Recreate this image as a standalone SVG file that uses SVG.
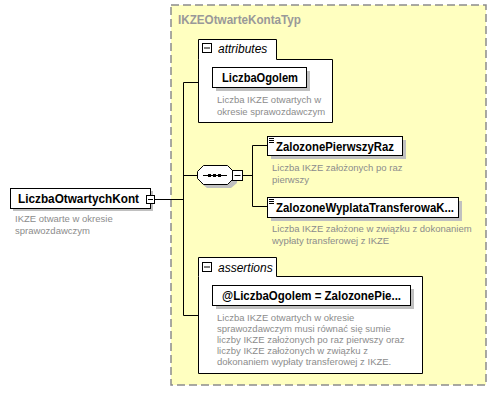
<svg xmlns="http://www.w3.org/2000/svg" width="495" height="403" viewBox="0 0 495 403">
<style>
.bg{fill:#ffffff}
.cont{fill:#ffffc0;stroke:#8c8c8c;stroke-width:1.5;stroke-dasharray:8,4}
.ttl{font-family:"Liberation Sans",Arial,sans-serif;font-size:12.5px;font-weight:bold;fill:#999999}
.box{fill:#ffffff;stroke:#000000;stroke-width:1}
.shadow{fill:#c0c0c0}
.name{font-family:"Liberation Sans",Arial,sans-serif;font-size:12px;font-weight:bold;fill:#000000}
.desc{font-family:"Liberation Sans",Arial,sans-serif;font-size:9.5px;fill:#8c8c8c}
.grp{font-family:"Liberation Sans",Arial,sans-serif;font-size:12px;font-style:italic;fill:#000000}
.ln{stroke:#000000;stroke-width:1;fill:none}
</style>
<rect class="bg" x="0" y="0" width="495" height="403"/>
<g id="IKZEOtwarteKontaTyp">
<rect class="cont" x="171" y="5" width="315" height="380"/>
<text class="ttl" x="178" y="24" textLength="123" lengthAdjust="spacingAndGlyphs">IKZEOtwarteKontaTyp</text>
</g>
<g id="connectors">
<path class="ln" d="M155,199.5 H183.5 M183.5,82.5 V315.5 M183.5,82.5 H198 M183.5,315.5 H198 M183.5,175.5 H197 M243,175.5 H252.5 M252.5,145.5 V206.5 M252.5,145.5 H268 M252.5,206.5 H268"/>
</g>
<g id="LiczbaOtwartychKont">
<rect class="shadow" x="13" y="191" width="140" height="20"/>
<rect class="box" x="10.5" y="188.5" width="140" height="20"/>
<text class="name" x="18" y="203" textLength="121" lengthAdjust="spacingAndGlyphs">LiczbaOtwartychKont</text>
<rect class="box" x="146.5" y="195.5" width="8" height="8"/>
<path class="ln" d="M148,199.5 H153"/>
<text class="desc" x="15" y="222">IKZE otwarte w okresie</text>
<text class="desc" x="15" y="234">sprawozdawczym</text>
</g>
<g id="attributes">
<path class="box" d="M198.5,59.5 V39.5 H276.5 V59.5 H332.5 V122.5 H198.5 Z"/>
<rect class="box" x="202.5" y="43.5" width="9" height="9"/>
<path class="ln" d="M204,48 H210"/>
<text class="grp" x="218" y="53">attributes</text>
</g>
<g id="LiczbaOgolem">
<rect class="shadow" x="216" y="71" width="94" height="20"/>
<rect class="box" x="212.5" y="67.5" width="94" height="20"/>
<text class="name" x="222" y="82" textLength="76" lengthAdjust="spacingAndGlyphs">LiczbaOgolem</text>
<text class="desc" x="217" y="103">Liczba IKZE otwartych w</text>
<text class="desc" x="217" y="115">okresie sprawozdawczym</text>
</g>
<g id="sequence">
<path class="shadow" d="M207,169 H231 L237,175 V183 L231,188 H207 L201,183 V175 Z"/>
<path class="box" d="M203.5,165.5 H227.5 L233.5,171.5 V178.5 L227.5,184.5 H203.5 L197.5,178.5 V171.5 Z"/>
<path class="ln" d="M203,175.5 H227"/>
<rect x="208" y="174" width="3" height="3" fill="#000"/>
<rect x="213" y="174" width="3" height="3" fill="#000"/>
<rect x="218" y="174" width="3" height="3" fill="#000"/>
<rect class="box" x="232.5" y="170.5" width="10" height="10"/>
<path class="ln" d="M234.5,175.5 H240.5"/>
</g>
<g id="ZalozonePierwszyRaz">
<rect class="shadow" x="271" y="140" width="135" height="19"/>
<rect class="box" x="267.5" y="136.5" width="135" height="19"/>
<path class="ln" d="M269,138.5 H274 M269,140.5 H274 M269,142.5 H274"/>
<text class="name" x="276" y="151" textLength="118" lengthAdjust="spacingAndGlyphs">ZalozonePierwszyRaz</text>
<text class="desc" x="272" y="171">Liczba IKZE założonych po raz</text>
<text class="desc" x="272" y="183">pierwszy</text>
</g>
<g id="ZalozoneWyplataTransferowaK">
<rect class="shadow" x="271" y="201" width="191" height="20"/>
<rect class="box" x="267.5" y="197.5" width="191" height="20"/>
<path class="ln" d="M269,199.5 H274 M269,201.5 H274 M269,203.5 H274"/>
<text class="name" x="276" y="212" textLength="178" lengthAdjust="spacingAndGlyphs">ZalozoneWyplataTransferowaK...</text>
<text class="desc" x="272" y="232">Liczba IKZE założone w związku z dokonaniem</text>
<text class="desc" x="272" y="244">wypłaty transferowej z IKZE</text>
</g>
<g id="assertions">
<path class="box" d="M198.5,276.5 V257.5 H276.5 V276.5 H422.5 V373.5 H198.5 Z"/>
<rect class="box" x="202.5" y="262.5" width="9" height="9"/>
<path class="ln" d="M204,267 H210"/>
<text class="grp" x="218" y="272">assertions</text>
</g>
<g id="assertion">
<rect class="shadow" x="216" y="289" width="198" height="20"/>
<rect class="box" x="212.5" y="285.5" width="198" height="20"/>
<text class="name" x="222" y="300" textLength="179" lengthAdjust="spacingAndGlyphs">@LiczbaOgolem = ZalozonePie...</text>
<text class="desc" x="217" y="321">Liczba IKZE otwartych w okresie</text>
<text class="desc" x="217" y="332">sprawozdawczym musi równać się sumie</text>
<text class="desc" x="217" y="343">liczby IKZE założonych po raz pierwszy oraz</text>
<text class="desc" x="217" y="354">liczby IKZE założonych w związku z</text>
<text class="desc" x="217" y="365">dokonaniem wypłaty transferowej z IKZE.</text>
</g>
</svg>
